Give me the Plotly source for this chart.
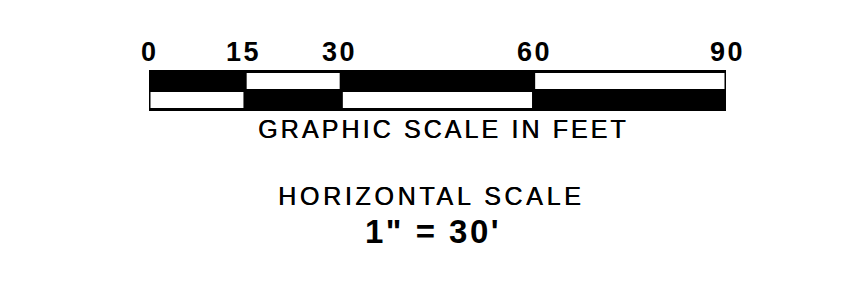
import plotly.graph_objects as go

# ---- data ----
distance_ticks = [0, 15, 30, 60, 90]
tick_labels = ["0", "15", "30", "60", "90"]
segment_starts = [0, 15, 30, 60]
segment_lengths = [15, 15, 30, 30]
top_row_fill = ["black", "white", "black", "white"]
bottom_row_fill = ["white", "black", "white", "black"]
units_title = "GRAPHIC SCALE IN FEET"
scale_title = "HORIZONTAL SCALE"
scale_ratio = "1\" = 30'"

# ---- layout geometry (page has an 8px body margin) ----
OFF = 8
W, H = 853 - OFF, 295 - OFF
L, R = 149 - OFF, 127
PX_PER_UNIT = 19.0
BAR_TOP_PX = 71.5 - OFF
ymax = 1.5 + BAR_TOP_PX / PX_PER_UNIT
ymin = ymax - H / PX_PER_UNIT
FONT = "Liberation Sans, Arial, Helvetica, sans-serif"


def py(px):
    return 1 - (px - OFF) / H


def pxx(px):
    return (px - OFF - L) / (W - L - R)


fig = go.Figure()
for row_y, fills in [(1, top_row_fill), (0, bottom_row_fill)]:
    fig.add_trace(go.Bar(
        orientation="h",
        y=[row_y] * len(segment_starts),
        base=segment_starts,
        x=segment_lengths,
        width=1,
        marker=dict(color=fills, line=dict(color="black", width=3)),
        cliponaxis=False,
        hoverinfo="skip",
        showlegend=False,
    ))

annotations = []
ls_tick = 2.5
for v, lab in zip(distance_ticks, tick_labels):
    annotations.append(dict(
        x=v, xref="x", y=py(52), yref="paper", yanchor="middle", xanchor="center",
        text=f'<span style="letter-spacing:{ls_tick}px">{lab}</span>',
        xshift=ls_tick / 2 - (3 if lab in ("15", "30") else 0),
        showarrow=False,
        font=dict(family=FONT, size=27, color="black", weight="bold"),
    ))

ls_txt = 3.1
reg_font = dict(family=FONT, size=25, color="black", shadow="0.5px 0px 0px #000")
annotations.append(dict(
    x=pxx(442.4), xref="paper", y=py(129.3), yref="paper", yanchor="middle", xanchor="center",
    text=f'<span style="letter-spacing:{ls_txt}px">{units_title}</span>',
    xshift=ls_txt / 2, showarrow=False, font=reg_font,
))
annotations.append(dict(
    x=pxx(429), xref="paper", y=py(195.8), yref="paper", yanchor="middle", xanchor="center",
    text=f'<span style="letter-spacing:{ls_txt + 0.6}px">{scale_title}</span>',
    xshift=(ls_txt + 0.6) / 2, showarrow=False, font=reg_font,
))
ls_b = 2.5
annotations.append(dict(
    x=pxx(431.5), xref="paper", y=py(231.3), yref="paper", yanchor="middle", xanchor="center",
    text=f'<span style="letter-spacing:{ls_b}px">{scale_ratio}</span>',
    xshift=ls_b / 2, showarrow=False,
    font=dict(family=FONT, size=33, color="black", weight="bold"),
))

fig.update_layout(
    width=W, height=H,
    margin=dict(l=L, r=R, t=0, b=0, pad=0),
    paper_bgcolor="white", plot_bgcolor="white",
    barmode="overlay",
    xaxis=dict(range=[0, 90], visible=False, fixedrange=True),
    yaxis=dict(range=[ymin, ymax], visible=False, fixedrange=True),
    annotations=annotations,
)

fig.write_html("out.html")
